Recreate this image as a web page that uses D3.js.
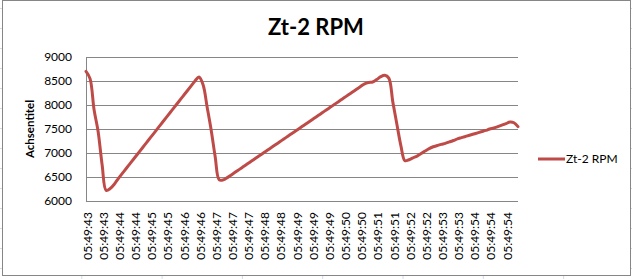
<!DOCTYPE html>
<html>
<head>
<meta charset="utf-8">
<script src="https://cdn.jsdelivr.net/npm/d3@7"></script>
<style>
  body { margin: 0; background: #fff; }
  svg { display: block; }
  text { font-family: Lato, "Open Sans", sans-serif; fill: #000; }
</style>
</head>
<body>
<div id="container"></div>
<script>
// x axis labels, one every 4 samples
const timeLabels = ["05:49:43","05:49:43","05:49:44","05:49:44","05:49:45","05:49:45","05:49:46","05:49:46",
  "05:49:47","05:49:47","05:49:47","05:49:48","05:49:48","05:49:49","05:49:49","05:49:49","05:49:50","05:49:50",
  "05:49:51","05:49:51","05:49:52","05:49:52","05:49:53","05:49:53","05:49:54","05:49:54","05:49:54"];
const labelStep = 4;

// rpm samples
const rpm = [
  8700, 8550, 7900, 7450, 6750, 6220, 6260, 6350,
  6468, 6575, 6682, 6789, 6896, 7003, 7110, 7217, 7324, 7431, 7538, 7645, 7752, 7859, 7966, 8073, 8180, 8287, 8394, 8501,
  8585, 8420, 7960, 7480, 6920, 6440, 6440,
  6487, 6544, 6602, 6659, 6717, 6774, 6832, 6889, 6947, 7004, 7062, 7119, 7177, 7234, 7292, 7349, 7407, 7464, 7522,
  7579, 7637, 7694, 7752, 7809, 7867, 7924, 7982, 8039, 8097, 8154, 8212, 8269, 8327, 8384, 8442, 8470, 8480, 8530,
  8590, 8620, 8560, 8060, 7600, 7150, 6840, 6860,
  6900, 6935, 6990, 7040, 7090, 7130, 7155, 7180, 7200, 7230, 7260, 7295, 7320, 7345, 7370, 7395, 7420, 7445, 7470,
  7500, 7520, 7550, 7580, 7610, 7645, 7630, 7550
];
const yTicks = [6000, 6500, 7000, 7500, 8000, 8500, 9000];
const seriesName = "Zt-2 RPM";

const w = 632, h = 279;
const plotL = 86, plotR = 518, plotT = 57, plotB = 201;

const svg = d3.select("#container").append("svg")
  .attr("width", w).attr("height", h);

// spreadsheet grid behind the chart
const bg = svg.append("g").attr("stroke", "#d4dbe6").attr("stroke-width", 1);
d3.range(1, 9).forEach(c => bg.append("line")
  .attr("x1", c * 80.3 + 1.5).attr("x2", c * 80.3 + 1.5).attr("y1", 0).attr("y2", h));
d3.range(0, 15).forEach(r => bg.append("line")
  .attr("x1", 0).attr("x2", w).attr("y1", r * 20 + 8.5).attr("y2", r * 20 + 8.5));

// chart frame
svg.append("rect")
  .attr("x", 2.5).attr("y", 0.5).attr("width", 628).attr("height", 275)
  .attr("fill", "#fff").attr("stroke", "#868686");

const xScale = d3.scalePoint()
  .domain(d3.range(rpm.length))
  .range([plotL, plotR]);

const yScale = d3.scaleLinear()
  .domain([6000, 9000])
  .range([plotB, plotT]);

// gridlines + y labels
const yAxis = d3.axisLeft(yScale).tickValues(yTicks).tickFormat(d3.format("d"))
  .tickSize(-(plotR - plotL)).tickPadding(14);
const gy = svg.append("g").attr("transform", "translate(" + plotL + ",0)").call(yAxis);
gy.select(".domain").remove();
gy.selectAll(".tick line").attr("stroke", "#868686").attr("shape-rendering", "crispEdges");
gy.selectAll(".tick text").style("font-size", "12px");

// axis lines
svg.append("line").attr("x1", plotL).attr("x2", plotL).attr("y1", plotT).attr("y2", plotB)
  .attr("stroke", "#868686").attr("shape-rendering", "crispEdges");
svg.append("line").attr("x1", plotL).attr("x2", plotR).attr("y1", plotB).attr("y2", plotB)
  .attr("stroke", "#868686").attr("shape-rendering", "crispEdges");

// x labels
const xAxis = d3.axisBottom(xScale)
  .tickValues(d3.range(0, timeLabels.length * labelStep, labelStep))
  .tickFormat(i => timeLabels[i / labelStep])
  .tickSize(0);
const gx = svg.append("g").attr("transform", "translate(0," + plotB + ")").call(xAxis);
gx.select(".domain").remove();
gx.selectAll(".tick text")
  .style("font-size", "12px")
  .attr("text-anchor", "end")
  .attr("transform", "rotate(-90)")
  .attr("x", -11).attr("y", 1).attr("dy", "0.35em");

// series line
const line = d3.line()
  .x((d, i) => xScale(i))
  .y(d => yScale(d))
  .curve(d3.curveCatmullRom.alpha(0.5));

svg.append("path")
  .datum(rpm)
  .attr("d", line)
  .attr("fill", "none")
  .attr("stroke", "#BE4B48")
  .attr("stroke-width", 3)
  .attr("stroke-linejoin", "round")
  .attr("stroke-linecap", "round");

// title
svg.append("text")
  .attr("x", 316).attr("y", 35)
  .attr("text-anchor", "middle")
  .style("font-size", "22px").style("font-weight", "bold")
  .text(seriesName);

// y axis title
svg.append("text")
  .attr("transform", "translate(34,129) rotate(-90)")
  .attr("text-anchor", "middle")
  .style("font-size", "11.5px").style("font-weight", "bold")
  .text("Achsentitel");

// legend
svg.append("line").attr("x1", 538).attr("x2", 565).attr("y1", 159).attr("y2", 159)
  .attr("stroke", "#BE4B48").attr("stroke-width", 3);
svg.append("text").attr("x", 566).attr("y", 159).attr("dy", "0.35em")
  .style("font-size", "12px").text(seriesName);
</script>
</body>
</html>
